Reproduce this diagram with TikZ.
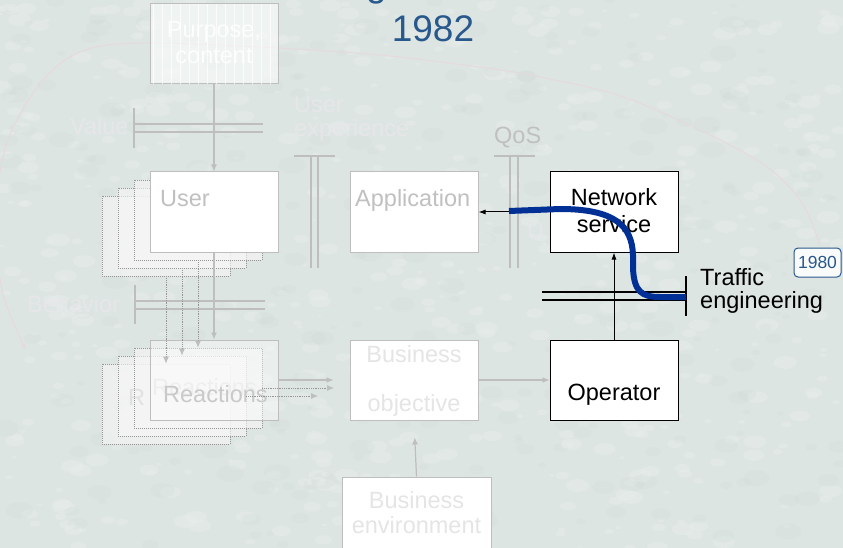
\documentclass[tikz,border=0pt]{standalone}
\usepackage{fontspec}
\setmainfont{Liberation Sans}
\usetikzlibrary{arrows.meta}

\definecolor{bgbase}{RGB}{221,229,226}
\definecolor{bgdark}{RGB}{200,212,206}
\definecolor{fadeline}{RGB}{190,190,190}
\definecolor{fadetext}{RGB}{192,192,192}
\definecolor{ghosttext}{RGB}{234,231,236}
\definecolor{paletext}{RGB}{229,229,229}
\definecolor{titleblue}{RGB}{40,88,140}
\definecolor{routeblue}{RGB}{0,48,150}
\definecolor{arcpink}{RGB}{229,217,223}
\definecolor{dotgrey}{RGB}{150,150,150}

\begin{document}
\begin{tikzpicture}[x=1pt,y=-1pt,
  boxbase/.style={minimum width=128pt, minimum height=80pt, inner sep=0pt, line width=1pt},
  fadebox/.style={boxbase, draw=fadeline, fill=white},
  palebox/.style={boxbase, draw=fadeline, fill=white, fill opacity=0.55},
  dotbox/.style={boxbase, draw=dotgrey, densely dotted, line width=0.8pt, fill=white!93!gray, fill opacity=0.6},
  blackbox/.style={boxbase, draw=black, fill=white},
  txt/.style={font=\fontsize{23.5}{26}\selectfont, inner sep=0pt, anchor=base},
  txtl/.style={txt, anchor=base west},
  ghost/.style={txtl, text=ghosttext, text opacity=0.75},
  greyarrow/.style={draw=fadeline, line width=1.2pt, -{Latex[length=7pt,width=6pt]}},
  dotarrow/.style={draw=dotgrey, densely dotted, line width=0.8pt, -{Latex[length=7pt,width=6pt,color=fadeline]}},
  blackarrow/.style={draw=black, line width=1pt, -{Latex[length=7pt,width=5pt]}},
  crossmark/.style={draw=fadeline, line width=1.3pt},
]

% backdrop with a soft mottled texture
\fill[bgbase] (0,0) rectangle (843,548);
\useasboundingbox (0,0) rectangle (843,548);
\begin{scope}
  \clip (0,0) rectangle (843,548);
  \pgfmathsetseed{2718}
  \foreach \i in {1,...,320}{
    \pgfmathsetmacro\px{rnd*843}
    \pgfmathsetmacro\py{rnd*548}
    \pgfmathsetmacro\pr{3+rnd*11}
    \fill[bgdark, opacity=0.16] (\px,\py) ellipse[x radius=\pr, y radius=0.6*\pr];
  }
  \foreach \i in {1,...,650}{
    \pgfmathsetmacro\px{rnd*843}
    \pgfmathsetmacro\py{rnd*548}
    \pgfmathsetmacro\pr{2+rnd*10}
    \fill[white, opacity=0.13] (\px,\py) ellipse[x radius=\pr, y radius=0.55*\pr];
  }
\end{scope}

% faint historic arc
\draw[arcpink, line width=1pt, -{Latex[length=6pt,width=5pt]}]
  plot[smooth, tension=0.55] coordinates {(820,246) (800,200) (752,157) (632,100) (550,79) (500,70) (390,56) (278,48) (150,43) (85,50) (43,80) (8,140) (-4,210) (2,290) (26,350)};

% title
\node[txt, font=\fontsize{37}{40}\selectfont, text=titleblue, anchor=base west] (titleg) at (366,-3) {g};
\node[txt, font=\fontsize{37}{40}\selectfont, text=titleblue] (year) at (433,42) {1982};

% purpose box with fine grid
\node[palebox] (purpose) at (214,44) {};
\begin{scope}
  \clip (purpose.south west) rectangle (purpose.north east);
  \draw[white, line width=0.5pt, opacity=0.7, step=9] (150,4) grid (278,84);
\end{scope}
\node[txt, text=white, opacity=0.85] (purposeA) at (214,38) {Purpose,};
\node[txt, text=white, opacity=0.85] (purposeB) at (214,64) {content};

% crossing marks
\draw[crossmark] (134,108) -- (134,148) (134,124) -- (263,124) (134,132) -- (263,132);
\node[ghost] (value) at (70,135) {Value};
\node[ghost] (uexpA) at (294,113) {User};
\node[ghost] (uexpB) at (294,137) {experience};
\draw[crossmark] (294,156) -- (335,156) (311,156) -- (311,268) (318,156) -- (318,268);
\draw[crossmark] (494,156) -- (535,156) (510,156) -- (510,268) (518,156) -- (518,268);
\node[txtl, text=fadetext] (qos) at (494,144) {QoS};
\draw[crossmark] (135,285) -- (135,324) (135,301) -- (265,301) (135,309) -- (265,309);
\node[ghost] (behav) at (27,312) {Behavior};
\node[ghost, text opacity=0.5] (qhint) at (527,240) {U};

% user stack
\foreach \k in {3,2,1}{
  \node[dotbox] (user\k) at ({214-16*\k},{212+8*\k}) {};
}
\node[fadebox] (user) at (214,212) {};
\node[txtl, text=fadetext] (usertxt) at (160,207) {User};

% reactions stack
\foreach \k in {3,2,1}{
  \node[dotbox] (reac\k) at ({214-16*\k},{380+8*\k}) {};
}
\node[txtl, text=fadetext, text opacity=0.35] (reacghostA) at (128,405) {R};
\node[txtl, text=fadetext, text opacity=0.3] (reacghostB) at (152,395) {Reactions};
\node[palebox, fill opacity=0.4] (reac) at (214,380) {};
\node[txtl, text=fadetext!85!white] (reactxt) at (163,402) {Reactions};

% middle and right boxes
\node[fadebox] (app) at (414,212) {};
\node[txtl, text=fadetext] (apptxt) at (355,207) {Application};
\node[fadebox] (obj) at (414,380) {};
\node[txt, text=paletext] (objA) at (414,362) {Business};
\node[txt, text=paletext] (objB) at (414,411) {objective};
\node[fadebox, minimum width=149pt, minimum height=90pt] (env) at (416.5,522) {};
\node[txt, text=paletext] (envA) at (416.5,508) {Business};
\node[txt, text=paletext] (envB) at (416.5,533) {environment};
\node[blackbox] (net) at (614,212) {};
\node[txt] (netA) at (614,206) {Network};
\node[txt] (netB) at (614,233) {service};
\node[blackbox] (oper) at (614,380) {};
\node[txt] (opertxt) at (614,400) {Operator};

% connectors
\draw[greyarrow] (purpose.south) -- (user.north);
\draw[greyarrow] (user.south) -- (reac.north);
\foreach \k in {1,2,3}{
  \draw[dotarrow] (user\k.south) -- (reac\k.north);
}
\coordinate (objshadowA) at (334,388);
\coordinate (objshadowB) at (318,396);
\draw[greyarrow, shorten >=16pt] (reac.east) -- (obj.west);
\draw[dotarrow] (reac1.east) -- (objshadowA);
\draw[dotarrow] (reac2.east) -- (objshadowB);
\draw[greyarrow, shorten >=17pt] (env.north) -- (obj.south);
\draw[greyarrow] (obj.east) -- (oper.west);
\draw[blackarrow] (oper.north) -- (net.south);
\draw[blackarrow] (net.west) -- (app.east);

% traffic engineering mark
\draw[black, line width=1.3pt] (542,292) -- (686,292) (542,300) -- (686,300) (686,276) -- (686,316);
\node[txtl] (trafA) at (700,285) {Traffic};
\node[txtl] (trafB) at (700,308) {engineering};

% routed path
\coordinate (routeA) at (509,211);
\coordinate (routeB) at (686,297);
\draw[routeblue, line width=6pt]
  (routeA) -- (560,209) .. controls (615,209) and (632,226) .. (633,255)
  -- (633,268) .. controls (634,292) and (642,297) .. (660,297) -- (routeB);

% year tag
\node[draw=titleblue, fill=white, fill opacity=0.85, text opacity=1, rounded corners=4pt, line width=1pt,
      minimum width=47pt, minimum height=29pt, inner sep=0pt, text=titleblue,
      font=\fontsize{17.5}{19}\selectfont] (tag) at (817.5,262.5) {1980};

\end{tikzpicture}
\end{document}
